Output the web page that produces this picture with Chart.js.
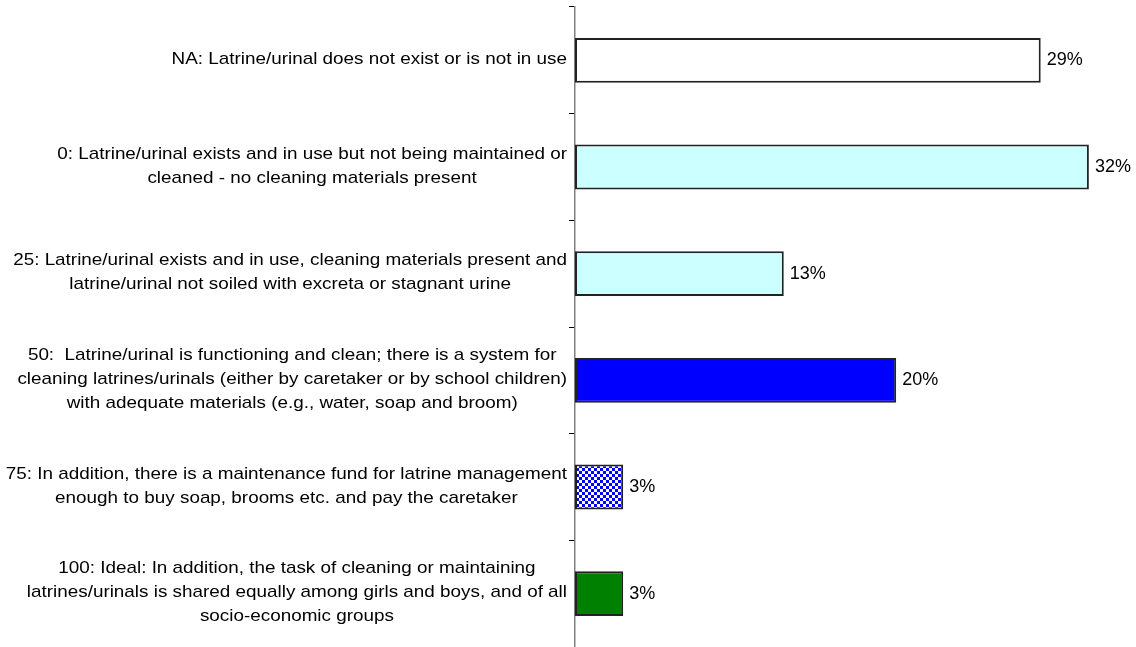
<!DOCTYPE html>
<html>
<head>
<meta charset="utf-8">
<script src="https://cdn.jsdelivr.net/npm/chart.js@4/dist/chart.umd.min.js"></script>
<style>
  html, body { margin: 0; padding: 0; background: #fff; }
  #wrap { width: 1136px; height: 647px; }
</style>
</head>
<body>
<div id="wrap"><canvas id="grafico" width="1136" height="647"></canvas></div>
<script>
// ===============================
// DATA
// ===============================

const categories = [
  ["NA: Latrine/urinal does not exist or is not in use"],
  ["0: Latrine/urinal exists and in use but not being maintained or",
   "cleaned - no cleaning materials present"],
  ["25: Latrine/urinal exists and in use, cleaning materials present and",
   "latrine/urinal not soiled with excreta or stagnant urine"],
  ["50:  Latrine/urinal is functioning and clean; there is a system for",
   "cleaning latrines/urinals (either by caretaker or by school children)",
   "with adequate materials (e.g., water, soap and broom)"],
  ["75: In addition, there is a maintenance fund for latrine management",
   "enough to buy soap, brooms etc. and pay the caretaker"],
  ["100: Ideal: In addition, the task of cleaning or maintaining",
   "latrines/urinals is shared equally among girls and boys, and of all",
   "socio-economic groups"]
];

const percentages = [29, 32, 13, 20, 3, 3];

// ===============================
// FILLS
// ===============================

// small blue/white checkerboard used for the "75" bar
function checkerPattern() {
  const tile = document.createElement("canvas");
  tile.width = 6;
  tile.height = 6;
  const t = tile.getContext("2d");
  t.fillStyle = "#ffffff";
  t.fillRect(0, 0, 6, 6);
  t.fillStyle = "#0000ff";
  t.fillRect(0, 0, 3, 3);
  t.fillRect(3, 3, 3, 3);
  return t.createPattern(tile, "repeat");
}

const ctx = document.getElementById("grafico").getContext("2d");

const fills = ["#ffffff", "#ccffff", "#ccffff", "#0000ff", checkerPattern(), "#008000"];

// ===============================
// LABELS (category text + value)
// ===============================

const FONT = "'Liberation Sans', Arial, sans-serif";
const LINE_HEIGHT = 24;
const STRETCH = 1.11; // category text is set a bit wide

const labelPlugin = {
  id: "labelPlugin",
  afterDraw(chart) {
    const c = chart.ctx;
    const yScale = chart.scales.y;
    const bars = chart.getDatasetMeta(0).data;

    c.save();
    c.fillStyle = "#000";
    c.textBaseline = "middle";

    categories.forEach(function (lines, i) {
      const cy = yScale.getPixelForValue(i);

      // block of lines, right edge next to the axis, each line centred
      c.font = "17px " + FONT;
      c.textAlign = "center";
      const widest = STRETCH * Math.max.apply(null, lines.map(function (l) { return c.measureText(l).width; }));
      const cx = yScale.right - 8 - widest / 2;
      lines.forEach(function (line, k) {
        const ly = cy - 1 + (k - (lines.length - 1) / 2) * LINE_HEIGHT;
        c.save();
        c.translate(cx, ly);
        c.scale(STRETCH, 1);
        c.fillText(line, 0, 0);
        c.restore();
      });

      // value at the end of the bar
      c.font = "18px " + FONT;
      c.textAlign = "left";
      c.fillText(percentages[i] + "%", bars[i].x + 6, bars[i].y);
    });

    c.restore();
  }
};

// ===============================
// CHART
// ===============================

new Chart(ctx, {
  type: "bar",
  data: {
    labels: categories,
    datasets: [
      {
        data: percentages,
        backgroundColor: fills,
        borderColor: "#222222",
        borderWidth: 2,
        borderSkipped: false,
        barPercentage: 0.42,
        categoryPercentage: 1
      }
    ]
  },
  options: {
    indexAxis: "y",
    responsive: false,
    animation: false,
    layout: {
      padding: { top: 7, right: 15, bottom: 0, left: 0 }
    },
    plugins: {
      legend: { display: false },
      tooltip: { enabled: false }
    },
    scales: {
      x: {
        display: false,
        min: 0,
        max: 34
      },
      y: {
        afterFit: function (scale) {
          scale.width = 575;
        },
        ticks: { display: false },
        grid: {
          drawOnChartArea: false,
          drawTicks: true,
          tickLength: 6,
          color: "#000",
          lineWidth: 1
        },
        border: {
          display: true,
          color: "#808080",
          width: 1.5
        }
      }
    }
  },
  plugins: [labelPlugin]
});
</script>
</body>
</html>
